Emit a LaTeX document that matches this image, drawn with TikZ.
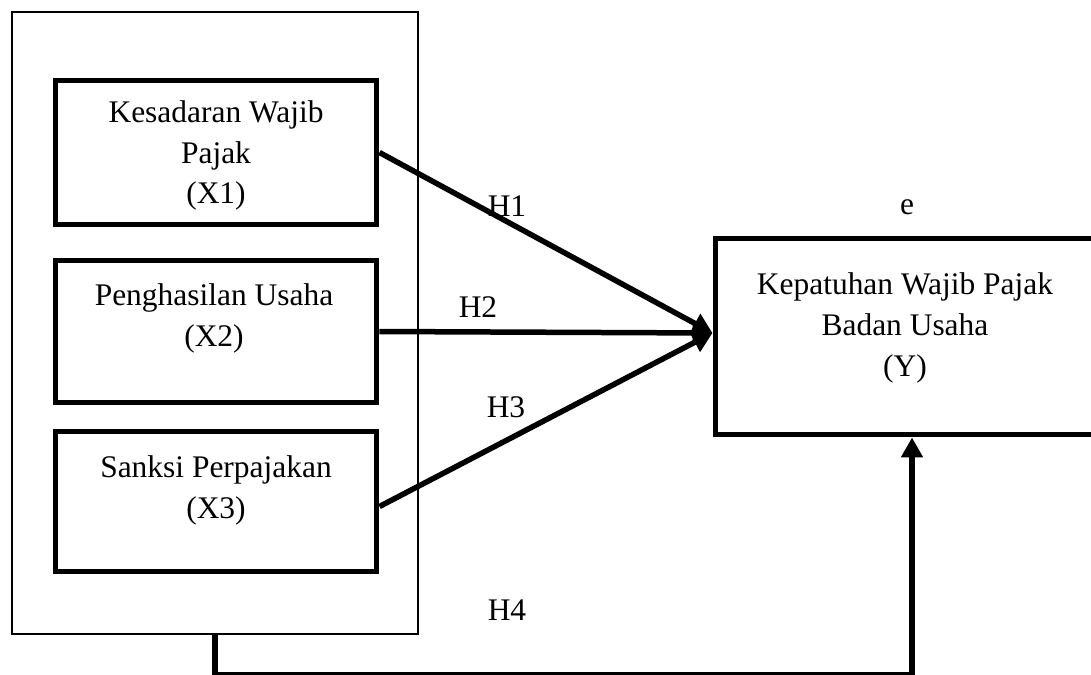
\documentclass[tikz,border=0pt]{standalone}
\usepackage{fontspec}
\setmainfont{Liberation Serif}
\usetikzlibrary{arrows.meta}
\begin{document}
\begin{tikzpicture}[x=0.02cm,y=-0.02cm,
  every node/.style={font=\fontsize{17.9}{23.3}\selectfont},
  varbox/.style={draw,line width=0.1cm,rectangle,inner sep=0pt},
  lbl/.style={align=center,anchor=base,inner sep=0pt},
  arr/.style={line width=0.11cm,-{Triangle[length=0.4cm,width=0.42cm]}}]
\useasboundingbox (0,0) rectangle (1091,675);
\clip (0,0) rectangle (1091,675);
\node[draw,line width=0.03cm,minimum width=8.12cm,minimum height=12.44cm,inner sep=0pt] (outer) at (215,323) {};
\node[varbox,minimum width=6.44cm,minimum height=2.9cm] (x1) at (216,152.5) {};
\node[varbox,minimum width=6.44cm,minimum height=2.86cm] (x2) at (216,331.5) {};
\node[varbox,minimum width=6.44cm,minimum height=2.82cm] (x3) at (216,501.5) {};
\node[varbox,minimum width=7.7cm,minimum height=3.94cm] (y) at (907.5,336.5) {};
\node[lbl] (t1) at (216,204) {Kesadaran Wajib\\Pajak\\(X1)};
\node[lbl] (t2) at (214,346) {Penghasilan Usaha\\(X2)};
\node[lbl] (t3) at (216,518) {Sanksi Perpajakan\\(X3)};
\node[lbl] (ty) at (905,376) {Kepatuhan Wajib Pajak\\Badan Usaha\\(Y)};
\node[lbl] (e) at (907,215) {e};
\node[lbl] (h1) at (507,217) {H1};
\node[lbl] (h2) at (478,317) {H2};
\node[lbl] (h3) at (506,417) {H3};
\node[lbl] (h4) at (507,620) {H4};
\coordinate (tip) at ([yshift=0.07cm]y.west);
\draw[arr] (x1.east) -- (tip);
\draw[arr] (x2.east) -- (tip);
\draw[arr] ([yshift=-0.1cm]x3.east) -- (tip);
\coordinate (b1) at (215,675);
\coordinate (b2) at (912,675);
\draw[arr] (outer.south) -- (b1) -- (b2) -- (b2 |- y.south);
\end{tikzpicture}
\end{document}
